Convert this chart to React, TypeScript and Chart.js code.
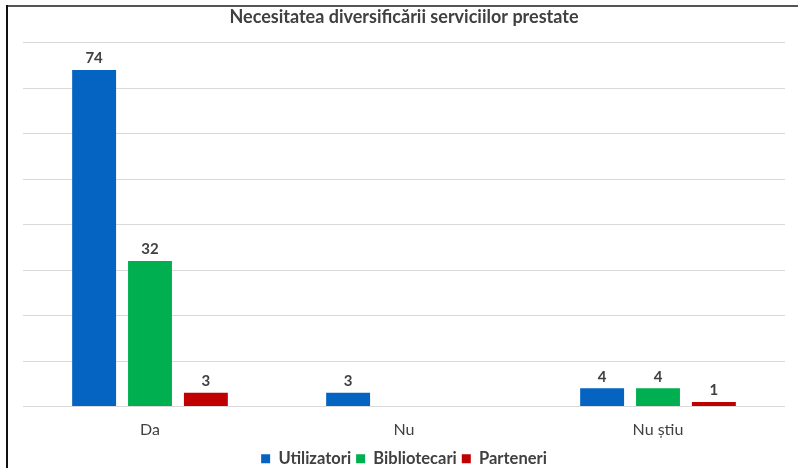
import React, { useEffect, useRef } from "react";
import { Chart, registerables } from "chart.js";

Chart.register(...registerables);

const categories = ["Da", "Nu", "Nu știu"];
const utilizatori = [74, 3, 4];
const bibliotecari = [32, 0, 4];
const parteneri = [3, 0, 1];
const seriesNames = ["Utilizatori", "Bibliotecari", "Parteneri"];
const seriesColors = ["#0563C1", "#00B050", "#C00000"];
const titleText = "Necesitatea diversificării serviciilor prestate";
const FONT = "Lato, 'Open Sans', sans-serif";

const valueLabels = {
  id: "valueLabels",
  afterDatasetsDraw(chart: any) {
    const ctx = chart.ctx;
    ctx.save();
    ctx.font = `bold 15px ${FONT}`;
    ctx.fillStyle = "#404040";
    ctx.textAlign = "center";
    ctx.textBaseline = "bottom";
    chart.data.datasets.forEach((ds: any, i: number) => {
      const meta = chart.getDatasetMeta(i);
      meta.data.forEach((bar: any, j: number) => {
        const v = ds.data[j];
        if (v > 0) ctx.fillText(String(v), bar.x, bar.y - 4);
      });
    });
    ctx.restore();
  },
};

export default function App() {
  const ref = useRef<HTMLCanvasElement>(null);
  useEffect(() => {
    const data = [utilizatori, bibliotecari, parteneri];
    const chart = new Chart(ref.current!, {
      type: "bar",
      data: {
        labels: categories,
        datasets: seriesNames.map((n, i) => ({
          label: n,
          data: data[i],
          backgroundColor: seriesColors[i],
          borderWidth: 0,
          categoryPercentage: 0.66,
          barPercentage: 0.786,
        })),
      },
      options: {
        responsive: false,
        animation: false,
        layout: { padding: { left: 23, right: 13, top: 0, bottom: -9 } },
        plugins: {
          title: {
            display: true,
            text: titleText,
            color: "#404040",
            font: { family: FONT, size: 18, weight: "bold" },
            padding: { top: 6, bottom: 15 },
          },
          legend: {
            position: "bottom",
            labels: {
              color: "#404040",
              font: { family: FONT, size: 16.5, weight: "bold" as any },
              boxWidth: 9,
              boxHeight: 9,
              padding: 5,
              usePointStyle: true,
              pointStyle: "rect",
            },
          },
          tooltip: { enabled: false },
        },
        scales: {
          x: {
            grid: { display: false, drawTicks: false },
            border: { display: false },
            ticks: {
              color: "#404040",
              font: { family: FONT, size: 16 },
              padding: 14,
            },
            afterFit: (s: any) => {
              s.height = 39;
            },
          },
          y: {
            display: true,
            min: 0,
            max: 80,
            ticks: { stepSize: 10, display: false },
            grid: { color: "#d9d9d9", lineWidth: 1, drawTicks: false },
            border: { display: false },
            afterFit: (s: any) => {
              s.width = 0;
            },
          },
        },
      },
      plugins: [valueLabels],
    });
    return () => chart.destroy();
  }, []);
  return (
    <div style={{ position: "fixed", left: 0, top: 0, width: 798, height: 468, background: "#fff" }}>
      <canvas ref={ref} width={798} height={468} style={{ position: "absolute", left: 0, top: 0 }} />
      <div style={{ position: "absolute", left: 6, top: 5, width: 792, height: 2, background: "#555" }} />
      <div style={{ position: "absolute", left: 6, top: 5, width: 2, height: 463, background: "#111" }} />
    </div>
  );
}
